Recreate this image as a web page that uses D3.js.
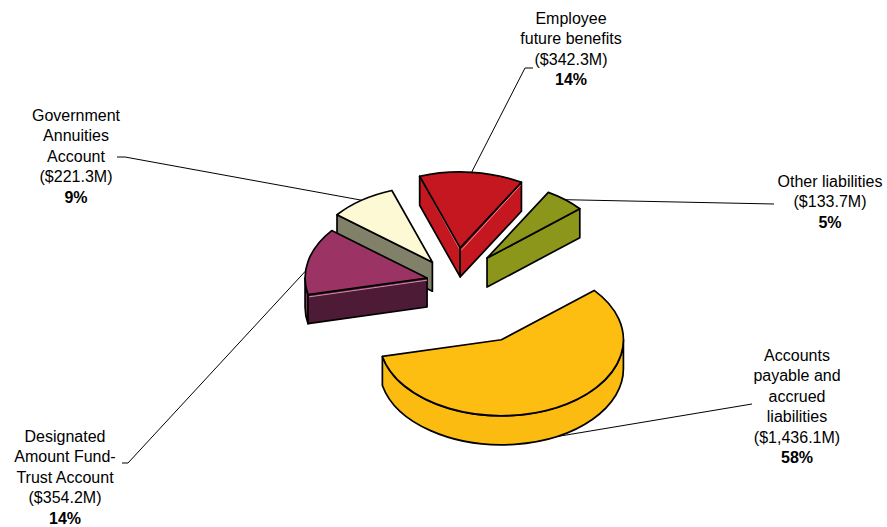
<!DOCTYPE html>
<html>
<head>
<meta charset="utf-8">
<script src="https://cdn.jsdelivr.net/npm/d3@7"></script>
<style>
  html, body { margin: 0; padding: 0; background: #fff; }
  svg { display: block; }
  text { font-family: "Liberation Sans", Arial, sans-serif; font-size: 16px; fill: #000; }
</style>
</head>
<body>
<svg id="chart" width="887" height="527"></svg>
<script>
// Liabilities breakdown ($ millions)
const categories = [
  ["Accounts", "payable and", "accrued", "liabilities"],
  ["Designated", "Amount Fund-", "Trust Account"],
  ["Government", "Annuities", "Account"],
  ["Employee", "future benefits"],
  ["Other liabilities"]
];
const values = [1436.1, 354.2, 221.3, 342.3, 133.7];

// Slice styling
const topColors  = ["#FDBD11", "#9B3465", "#FDF9D5", "#C4171F", "#8C961A"];
const faceColors = ["#FBBB10", "#4E1B36", "#818169", "#C4171F", "#8C961A"];
const sideColors = ["#FBBB10", "#8E2F5D", "#E9E5C2", "#C4171F", "#8C961A"];
const glints     = [null, "#D98AB0", null, "#F08A90", null];
const explode    = [0.85, 0.235, 0.32, 0.45, 0.41];

// Label layout: centre x, first-line centre y, leader polyline start
const labelLayout = [
  { x: 797, y: 355, lead: [[752, 404]], anchorDepth: 1.0 },
  { x: 65,  y: 436, lead: [[122, 463], [128, 463]], anchorDepth: 0.25 },
  { x: 76,  y: 115, lead: [[117, 157], [125, 157]], anchorDepth: 0 },
  { x: 571, y: 18,  lead: [[533, 68], [525, 68]], anchorDepth: 0 },
  { x: 830, y: 181, lead: [[774, 204]], anchorDepth: 0 }
];

const cx = 455, cy = 282, rx = 122, ry = 76, depth = 29;
const lineH = 20.5;
const startDeg = 49.5;

const svg = d3.select("#chart");
const total = d3.sum(values);

const pie = d3.pie().sort(null).value(d => d)
  .startAngle(startDeg * Math.PI / 180)
  .endAngle(startDeg * Math.PI / 180 + 2 * Math.PI);
const arcs = pie(values);

// projected point on the tilted ellipse
function pt(o, a, r = 1, dz = 0) {
  return [o[0] + rx * r * Math.sin(a), o[1] - ry * r * Math.cos(a) + dz];
}

const slices = arcs.map((d, i) => {
  const mid = (d.startAngle + d.endAngle) / 2;
  const o = [cx + explode[i] * rx * Math.sin(mid), cy - explode[i] * ry * Math.cos(mid)];
  return { i, a0: d.startAngle, a1: d.endAngle, mid, o,
           order: o[1] - 0.5 * ry * Math.cos(mid) };
});

const fmtPt = p => p[0].toFixed(2) + "," + p[1].toFixed(2);

function topPath(s) {
  const p0 = pt(s.o, s.a0), p1 = pt(s.o, s.a1);
  const large = (s.a1 - s.a0) > Math.PI ? 1 : 0;
  return `M${fmtPt(s.o)}L${fmtPt(p0)}A${rx},${ry} 0 ${large} 1 ${fmtPt(p1)}Z`;
}

function sidePath(o, s0, s1) {
  const p0 = pt(o, s0), p1 = pt(o, s1);
  const q0 = pt(o, s0, 1, depth), q1 = pt(o, s1, 1, depth);
  const large = (s1 - s0) > Math.PI ? 1 : 0;
  return `M${fmtPt(p0)}A${rx},${ry} 0 ${large} 1 ${fmtPt(p1)}L${fmtPt(q1)}` +
         `A${rx},${ry} 0 ${large} 0 ${fmtPt(q0)}Z`;
}

function facePath(o, a) {
  const p = pt(o, a);
  return `M${fmtPt(o)}L${fmtPt(p)}L${p[0].toFixed(2)},${(p[1] + depth).toFixed(2)}` +
         `L${o[0].toFixed(2)},${(o[1] + depth).toFixed(2)}Z`;
}

// Leader lines go underneath the slices
const leaders = svg.append("g");
slices.forEach(s => {
  const L = labelLayout[s.i];
  const anchor = pt(s.o, s.mid, 1, depth * L.anchorDepth);
  const pts = L.lead.concat([anchor]);
  leaders.append("path")
    .attr("d", d3.line()(pts))
    .attr("fill", "none")
    .attr("stroke", "#000")
    .attr("stroke-width", 1);
});

// Slices drawn back to front
const g = svg.append("g")
  .attr("stroke", "#000")
  .attr("stroke-width", 1.7)
  .attr("stroke-linejoin", "round");

slices.slice().sort((a, b) => a.order - b.order).forEach(s => {
  const sg = g.append("g");
  const TAU = 2 * Math.PI;
  // outer rim: visible where it faces the viewer (between 90° and 270°)
  [[Math.PI / 2, 1.5 * Math.PI], [Math.PI / 2 + TAU, 1.5 * Math.PI + TAU]].forEach(([f0, f1]) => {
    const s0 = Math.max(s.a0, f0), s1 = Math.min(s.a1, f1);
    if (s1 > s0 + 1e-4) {
      sg.append("path").attr("d", sidePath(s.o, s0, s1)).attr("fill", sideColors[s.i]);
    }
  });
  // cut faces
  if (Math.sin(s.a0) < 0) {
    sg.append("path").attr("d", facePath(s.o, s.a0)).attr("fill", faceColors[s.i]);
    if (glints[s.i]) {
      const p = pt(s.o, s.a0);
      sg.append("line").attr("x1", s.o[0]).attr("y1", s.o[1] + 2.2)
        .attr("x2", p[0] + 1).attr("y2", p[1] + 2.2)
        .attr("stroke", glints[s.i]).attr("stroke-width", 1);
    }
  }
  if (Math.sin(s.a1) > 0) {
    sg.append("path").attr("d", facePath(s.o, s.a1)).attr("fill", faceColors[s.i]);
    if (glints[s.i]) {
      const p = pt(s.o, s.a1);
      sg.append("line").attr("x1", s.o[0] + 1).attr("y1", s.o[1] + 2.5)
        .attr("x2", p[0] - 1).attr("y2", p[1] + 3)
        .attr("stroke", glints[s.i]).attr("stroke-width", 1);
    }
  }
  sg.append("path").attr("d", topPath(s)).attr("fill", topColors[s.i]);
});

// Labels
const fmtVal = d3.format(",.1f");
const labels = svg.append("g").attr("text-anchor", "middle");
values.forEach((v, i) => {
  const L = labelLayout[i];
  const lines = categories[i].concat([`($${fmtVal(v)}M)`]);
  const t = labels.append("text").attr("x", L.x).attr("y", L.y + 5.5);
  lines.forEach((ln, k) => {
    t.append("tspan").attr("x", L.x).attr("dy", k === 0 ? 0 : lineH).text(ln);
  });
  t.append("tspan").attr("x", L.x).attr("dy", lineH)
    .attr("font-weight", "bold")
    .text(Math.round(v / total * 100) + "%");
});
</script>
</body>
</html>
